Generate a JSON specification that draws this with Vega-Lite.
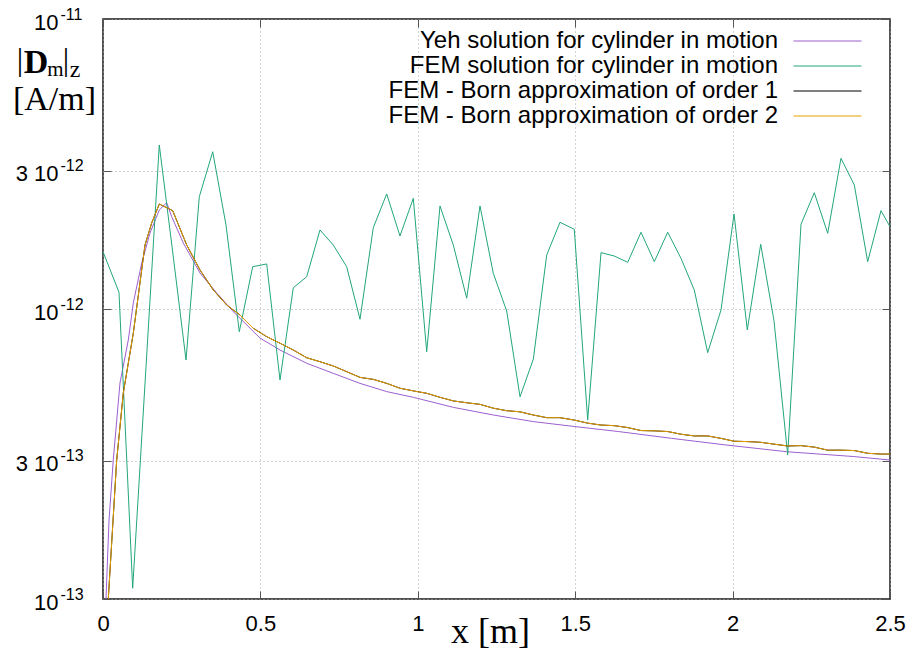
{
  "$schema": "https://vega.github.io/schema/vega-lite/v6.json",
  "width": 787,
  "height": 580,
  "autosize": {"type": "none"},
  "padding": {"left": 103, "top": 19, "right": 23, "bottom": 56},
  "background": "white",
  "config": {"view": {"stroke": "#1a1a1a", "strokeWidth": 1.5}},
  "data": {"name": "curves"},
  "datasets": {
    "curves": [
      {"series": "Yeh solution for cylinder in motion", "x": 0.0095, "y": 1.0e-13},
      {"series": "Yeh solution for cylinder in motion", "x": 0.0191, "y": 1.87e-13},
      {"series": "Yeh solution for cylinder in motion", "x": 0.0327, "y": 3.02e-13},
      {"series": "Yeh solution for cylinder in motion", "x": 0.054, "y": 5.56e-13},
      {"series": "Yeh solution for cylinder in motion", "x": 0.0804, "y": 7.82e-13},
      {"series": "Yeh solution for cylinder in motion", "x": 0.0963, "y": 1.049e-12},
      {"series": "Yeh solution for cylinder in motion", "x": 0.1229, "y": 1.441e-12},
      {"series": "Yeh solution for cylinder in motion", "x": 0.1493, "y": 1.829e-12},
      {"series": "Yeh solution for cylinder in motion", "x": 0.1788, "y": 2.194e-12},
      {"series": "Yeh solution for cylinder in motion", "x": 0.2024, "y": 2.326e-12},
      {"series": "Yeh solution for cylinder in motion", "x": 0.2182, "y": 2.081e-12},
      {"series": "Yeh solution for cylinder in motion", "x": 0.2551, "y": 1.689e-12},
      {"series": "Yeh solution for cylinder in motion", "x": 0.3081, "y": 1.331e-12},
      {"series": "Yeh solution for cylinder in motion", "x": 0.3612, "y": 1.136e-12},
      {"series": "Yeh solution for cylinder in motion", "x": 0.4139, "y": 9.79e-13},
      {"series": "Yeh solution for cylinder in motion", "x": 0.4987, "y": 7.94e-13},
      {"series": "Yeh solution for cylinder in motion", "x": 0.5623, "y": 7.22e-13},
      {"series": "Yeh solution for cylinder in motion", "x": 0.6471, "y": 6.50e-13},
      {"series": "Yeh solution for cylinder in motion", "x": 0.7316, "y": 6.00e-13},
      {"series": "Yeh solution for cylinder in motion", "x": 0.8164, "y": 5.54e-13},
      {"series": "Yeh solution for cylinder in motion", "x": 0.9012, "y": 5.19e-13},
      {"series": "Yeh solution for cylinder in motion", "x": 0.9857, "y": 4.96e-13},
      {"series": "Yeh solution for cylinder in motion", "x": 1.1128, "y": 4.58e-13},
      {"series": "Yeh solution for cylinder in motion", "x": 1.2398, "y": 4.31e-13},
      {"series": "Yeh solution for cylinder in motion", "x": 1.3669, "y": 4.09e-13},
      {"series": "Yeh solution for cylinder in motion", "x": 1.4835, "y": 3.95e-13},
      {"series": "Yeh solution for cylinder in motion", "x": 1.6369, "y": 3.78e-13},
      {"series": "Yeh solution for cylinder in motion", "x": 1.8065, "y": 3.58e-13},
      {"series": "Yeh solution for cylinder in motion", "x": 1.9759, "y": 3.40e-13},
      {"series": "Yeh solution for cylinder in motion", "x": 2.1719, "y": 3.22e-13},
      {"series": "Yeh solution for cylinder in motion", "x": 2.3834, "y": 3.10e-13},
      {"series": "Yeh solution for cylinder in motion", "x": 2.5, "y": 3.015e-13},

      {"series": "FEM solution for cylinder in motion", "x": 0.0, "y": 1.576e-12},
      {"series": "FEM solution for cylinder in motion", "x": 0.0508, "y": 1.142e-12},
      {"series": "FEM solution for cylinder in motion", "x": 0.0943, "y": 1.089e-13},
      {"series": "FEM solution for cylinder in motion", "x": 0.1366, "y": 6.31e-13},
      {"series": "FEM solution for cylinder in motion", "x": 0.1788, "y": 3.678e-12},
      {"series": "FEM solution for cylinder in motion", "x": 0.2214, "y": 1.573e-12},
      {"series": "FEM solution for cylinder in motion", "x": 0.2637, "y": 6.67e-13},
      {"series": "FEM solution for cylinder in motion", "x": 0.3059, "y": 2.439e-12},
      {"series": "FEM solution for cylinder in motion", "x": 0.3485, "y": 3.486e-12},
      {"series": "FEM solution for cylinder in motion", "x": 0.3907, "y": 1.949e-12},
      {"series": "FEM solution for cylinder in motion", "x": 0.4330, "y": 8.35e-13},
      {"series": "FEM solution for cylinder in motion", "x": 0.4755, "y": 1.399e-12},
      {"series": "FEM solution for cylinder in motion", "x": 0.5200, "y": 1.430e-12},
      {"series": "FEM solution for cylinder in motion", "x": 0.5623, "y": 5.69e-13},
      {"series": "FEM solution for cylinder in motion", "x": 0.6045, "y": 1.184e-12},
      {"series": "FEM solution for cylinder in motion", "x": 0.6471, "y": 1.292e-12},
      {"series": "FEM solution for cylinder in motion", "x": 0.6893, "y": 1.873e-12},
      {"series": "FEM solution for cylinder in motion", "x": 0.7316, "y": 1.662e-12},
      {"series": "FEM solution for cylinder in motion", "x": 0.7741, "y": 1.399e-12},
      {"series": "FEM solution for cylinder in motion", "x": 0.8164, "y": 9.22e-13},
      {"series": "FEM solution for cylinder in motion", "x": 0.8586, "y": 1.907e-12},
      {"series": "FEM solution for cylinder in motion", "x": 0.9012, "y": 2.493e-12},
      {"series": "FEM solution for cylinder in motion", "x": 0.9434, "y": 1.785e-12},
      {"series": "FEM solution for cylinder in motion", "x": 0.9857, "y": 2.408e-12},
      {"series": "FEM solution for cylinder in motion", "x": 1.0283, "y": 7.12e-13},
      {"series": "FEM solution for cylinder in motion", "x": 1.0705, "y": 2.266e-12},
      {"series": "FEM solution for cylinder in motion", "x": 1.1128, "y": 1.662e-12},
      {"series": "FEM solution for cylinder in motion", "x": 1.1553, "y": 1.089e-12},
      {"series": "FEM solution for cylinder in motion", "x": 1.1976, "y": 2.266e-12},
      {"series": "FEM solution for cylinder in motion", "x": 1.2398, "y": 1.328e-12},
      {"series": "FEM solution for cylinder in motion", "x": 1.2824, "y": 9.84e-13},
      {"series": "FEM solution for cylinder in motion", "x": 1.3247, "y": 4.98e-13},
      {"series": "FEM solution for cylinder in motion", "x": 1.3669, "y": 6.71e-13},
      {"series": "FEM solution for cylinder in motion", "x": 1.4095, "y": 1.535e-12},
      {"series": "FEM solution for cylinder in motion", "x": 1.4517, "y": 1.991e-12},
      {"series": "FEM solution for cylinder in motion", "x": 1.4971, "y": 1.883e-12},
      {"series": "FEM solution for cylinder in motion", "x": 1.5397, "y": 4.14e-13},
      {"series": "FEM solution for cylinder in motion", "x": 1.5820, "y": 1.564e-12},
      {"series": "FEM solution for cylinder in motion", "x": 1.6242, "y": 1.523e-12},
      {"series": "FEM solution for cylinder in motion", "x": 1.6668, "y": 1.449e-12},
      {"series": "FEM solution for cylinder in motion", "x": 1.7090, "y": 1.839e-12},
      {"series": "FEM solution for cylinder in motion", "x": 1.7513, "y": 1.456e-12},
      {"series": "FEM solution for cylinder in motion", "x": 1.7938, "y": 1.839e-12},
      {"series": "FEM solution for cylinder in motion", "x": 1.8361, "y": 1.495e-12},
      {"series": "FEM solution for cylinder in motion", "x": 1.8783, "y": 1.163e-12},
      {"series": "FEM solution for cylinder in motion", "x": 1.9209, "y": 7.07e-13},
      {"series": "FEM solution for cylinder in motion", "x": 1.9632, "y": 9.92e-13},
      {"series": "FEM solution for cylinder in motion", "x": 2.0045, "y": 2.126e-12},
      {"series": "FEM solution for cylinder in motion", "x": 2.0467, "y": 8.47e-13},
      {"series": "FEM solution for cylinder in motion", "x": 2.0893, "y": 1.672e-12},
      {"series": "FEM solution for cylinder in motion", "x": 2.1315, "y": 9.11e-13},
      {"series": "FEM solution for cylinder in motion", "x": 2.1750, "y": 3.14e-13},
      {"series": "FEM solution for cylinder in motion", "x": 2.2173, "y": 1.960e-12},
      {"series": "FEM solution for cylinder in motion", "x": 2.2595, "y": 2.518e-12},
      {"series": "FEM solution for cylinder in motion", "x": 2.3021, "y": 1.824e-12},
      {"series": "FEM solution for cylinder in motion", "x": 2.3443, "y": 3.309e-12},
      {"series": "FEM solution for cylinder in motion", "x": 2.3866, "y": 2.677e-12},
      {"series": "FEM solution for cylinder in motion", "x": 2.4291, "y": 1.456e-12},
      {"series": "FEM solution for cylinder in motion", "x": 2.4714, "y": 2.183e-12},
      {"series": "FEM solution for cylinder in motion", "x": 2.5, "y": 1.922e-12},

      {"series": "FEM - Born approximation of order 1", "x": 0.0168, "y": 1.0e-13},
      {"series": "FEM - Born approximation of order 1", "x": 0.0435, "y": 3.015e-13},
      {"series": "FEM - Born approximation of order 1", "x": 0.0645, "y": 5.13e-13},
      {"series": "FEM - Born approximation of order 1", "x": 0.0963, "y": 8.26e-13},
      {"series": "FEM - Born approximation of order 1", "x": 0.1334, "y": 1.662e-12},
      {"series": "FEM - Born approximation of order 1", "x": 0.1547, "y": 1.980e-12},
      {"series": "FEM - Born approximation of order 1", "x": 0.1788, "y": 2.302e-12},
      {"series": "FEM - Born approximation of order 1", "x": 0.2214, "y": 2.183e-12},
      {"series": "FEM - Born approximation of order 1", "x": 0.2659, "y": 1.662e-12},
      {"series": "FEM - Born approximation of order 1", "x": 0.3081, "y": 1.363e-12},
      {"series": "FEM - Born approximation of order 1", "x": 0.3504, "y": 1.163e-12},
      {"series": "FEM - Born approximation of order 1", "x": 0.3930, "y": 1.032e-12},
      {"series": "FEM - Born approximation of order 1", "x": 0.4352, "y": 9.53e-13},
      {"series": "FEM - Born approximation of order 1", "x": 0.4774, "y": 8.58e-13},
      {"series": "FEM - Born approximation of order 1", "x": 0.5200, "y": 8.03e-13},
      {"series": "FEM - Born approximation of order 1", "x": 0.5623, "y": 7.62e-13},
      {"series": "FEM - Born approximation of order 1", "x": 0.6045, "y": 7.22e-13},
      {"series": "FEM - Born approximation of order 1", "x": 0.6471, "y": 6.79e-13},
      {"series": "FEM - Born approximation of order 1", "x": 0.6893, "y": 6.58e-13},
      {"series": "FEM - Born approximation of order 1", "x": 0.7316, "y": 6.36e-13},
      {"series": "FEM - Born approximation of order 1", "x": 0.7741, "y": 6.08e-13},
      {"series": "FEM - Born approximation of order 1", "x": 0.8164, "y": 5.81e-13},
      {"series": "FEM - Born approximation of order 1", "x": 0.8586, "y": 5.72e-13},
      {"series": "FEM - Born approximation of order 1", "x": 0.9012, "y": 5.54e-13},
      {"series": "FEM - Born approximation of order 1", "x": 0.9434, "y": 5.33e-13},
      {"series": "FEM - Born approximation of order 1", "x": 0.9857, "y": 5.22e-13},
      {"series": "FEM - Born approximation of order 1", "x": 1.0283, "y": 5.12e-13},
      {"series": "FEM - Born approximation of order 1", "x": 1.0705, "y": 4.96e-13},
      {"series": "FEM - Born approximation of order 1", "x": 1.1128, "y": 4.82e-13},
      {"series": "FEM - Born approximation of order 1", "x": 1.1553, "y": 4.75e-13},
      {"series": "FEM - Born approximation of order 1", "x": 1.1976, "y": 4.69e-13},
      {"series": "FEM - Born approximation of order 1", "x": 1.2398, "y": 4.55e-13},
      {"series": "FEM - Born approximation of order 1", "x": 1.2824, "y": 4.46e-13},
      {"series": "FEM - Born approximation of order 1", "x": 1.3247, "y": 4.42e-13},
      {"series": "FEM - Born approximation of order 1", "x": 1.3669, "y": 4.31e-13},
      {"series": "FEM - Born approximation of order 1", "x": 1.4095, "y": 4.22e-13},
      {"series": "FEM - Born approximation of order 1", "x": 1.4517, "y": 4.22e-13},
      {"series": "FEM - Born approximation of order 1", "x": 1.4971, "y": 4.14e-13},
      {"series": "FEM - Born approximation of order 1", "x": 1.5397, "y": 4.04e-13},
      {"series": "FEM - Born approximation of order 1", "x": 1.5820, "y": 3.98e-13},
      {"series": "FEM - Born approximation of order 1", "x": 1.6242, "y": 3.96e-13},
      {"series": "FEM - Born approximation of order 1", "x": 1.6668, "y": 3.90e-13},
      {"series": "FEM - Born approximation of order 1", "x": 1.7090, "y": 3.81e-13},
      {"series": "FEM - Born approximation of order 1", "x": 1.7513, "y": 3.80e-13},
      {"series": "FEM - Born approximation of order 1", "x": 1.7938, "y": 3.78e-13},
      {"series": "FEM - Born approximation of order 1", "x": 1.8361, "y": 3.70e-13},
      {"series": "FEM - Born approximation of order 1", "x": 1.8783, "y": 3.65e-13},
      {"series": "FEM - Born approximation of order 1", "x": 1.9209, "y": 3.65e-13},
      {"series": "FEM - Born approximation of order 1", "x": 1.9632, "y": 3.58e-13},
      {"series": "FEM - Born approximation of order 1", "x": 2.0045, "y": 3.50e-13},
      {"series": "FEM - Born approximation of order 1", "x": 2.0467, "y": 3.49e-13},
      {"series": "FEM - Born approximation of order 1", "x": 2.0893, "y": 3.47e-13},
      {"series": "FEM - Born approximation of order 1", "x": 2.1315, "y": 3.42e-13},
      {"series": "FEM - Born approximation of order 1", "x": 2.1750, "y": 3.37e-13},
      {"series": "FEM - Born approximation of order 1", "x": 2.2173, "y": 3.38e-13},
      {"series": "FEM - Born approximation of order 1", "x": 2.2595, "y": 3.34e-13},
      {"series": "FEM - Born approximation of order 1", "x": 2.3021, "y": 3.26e-13},
      {"series": "FEM - Born approximation of order 1", "x": 2.3443, "y": 3.26e-13},
      {"series": "FEM - Born approximation of order 1", "x": 2.3866, "y": 3.25e-13},
      {"series": "FEM - Born approximation of order 1", "x": 2.4291, "y": 3.18e-13},
      {"series": "FEM - Born approximation of order 1", "x": 2.4714, "y": 3.16e-13},
      {"series": "FEM - Born approximation of order 1", "x": 2.5, "y": 3.16e-13},

      {"series": "FEM - Born approximation of order 2", "x": 0.0168, "y": 1.0e-13},
      {"series": "FEM - Born approximation of order 2", "x": 0.0435, "y": 3.015e-13},
      {"series": "FEM - Born approximation of order 2", "x": 0.0645, "y": 5.13e-13},
      {"series": "FEM - Born approximation of order 2", "x": 0.0963, "y": 8.26e-13},
      {"series": "FEM - Born approximation of order 2", "x": 0.1334, "y": 1.662e-12},
      {"series": "FEM - Born approximation of order 2", "x": 0.1547, "y": 1.980e-12},
      {"series": "FEM - Born approximation of order 2", "x": 0.1788, "y": 2.302e-12},
      {"series": "FEM - Born approximation of order 2", "x": 0.2214, "y": 2.183e-12},
      {"series": "FEM - Born approximation of order 2", "x": 0.2659, "y": 1.662e-12},
      {"series": "FEM - Born approximation of order 2", "x": 0.3081, "y": 1.363e-12},
      {"series": "FEM - Born approximation of order 2", "x": 0.3504, "y": 1.163e-12},
      {"series": "FEM - Born approximation of order 2", "x": 0.3930, "y": 1.032e-12},
      {"series": "FEM - Born approximation of order 2", "x": 0.4352, "y": 9.53e-13},
      {"series": "FEM - Born approximation of order 2", "x": 0.4774, "y": 8.58e-13},
      {"series": "FEM - Born approximation of order 2", "x": 0.5200, "y": 8.03e-13},
      {"series": "FEM - Born approximation of order 2", "x": 0.5623, "y": 7.62e-13},
      {"series": "FEM - Born approximation of order 2", "x": 0.6045, "y": 7.22e-13},
      {"series": "FEM - Born approximation of order 2", "x": 0.6471, "y": 6.79e-13},
      {"series": "FEM - Born approximation of order 2", "x": 0.6893, "y": 6.58e-13},
      {"series": "FEM - Born approximation of order 2", "x": 0.7316, "y": 6.36e-13},
      {"series": "FEM - Born approximation of order 2", "x": 0.7741, "y": 6.08e-13},
      {"series": "FEM - Born approximation of order 2", "x": 0.8164, "y": 5.81e-13},
      {"series": "FEM - Born approximation of order 2", "x": 0.8586, "y": 5.72e-13},
      {"series": "FEM - Born approximation of order 2", "x": 0.9012, "y": 5.54e-13},
      {"series": "FEM - Born approximation of order 2", "x": 0.9434, "y": 5.33e-13},
      {"series": "FEM - Born approximation of order 2", "x": 0.9857, "y": 5.22e-13},
      {"series": "FEM - Born approximation of order 2", "x": 1.0283, "y": 5.12e-13},
      {"series": "FEM - Born approximation of order 2", "x": 1.0705, "y": 4.96e-13},
      {"series": "FEM - Born approximation of order 2", "x": 1.1128, "y": 4.82e-13},
      {"series": "FEM - Born approximation of order 2", "x": 1.1553, "y": 4.75e-13},
      {"series": "FEM - Born approximation of order 2", "x": 1.1976, "y": 4.69e-13},
      {"series": "FEM - Born approximation of order 2", "x": 1.2398, "y": 4.55e-13},
      {"series": "FEM - Born approximation of order 2", "x": 1.2824, "y": 4.46e-13},
      {"series": "FEM - Born approximation of order 2", "x": 1.3247, "y": 4.42e-13},
      {"series": "FEM - Born approximation of order 2", "x": 1.3669, "y": 4.31e-13},
      {"series": "FEM - Born approximation of order 2", "x": 1.4095, "y": 4.22e-13},
      {"series": "FEM - Born approximation of order 2", "x": 1.4517, "y": 4.22e-13},
      {"series": "FEM - Born approximation of order 2", "x": 1.4971, "y": 4.14e-13},
      {"series": "FEM - Born approximation of order 2", "x": 1.5397, "y": 4.04e-13},
      {"series": "FEM - Born approximation of order 2", "x": 1.5820, "y": 3.98e-13},
      {"series": "FEM - Born approximation of order 2", "x": 1.6242, "y": 3.96e-13},
      {"series": "FEM - Born approximation of order 2", "x": 1.6668, "y": 3.90e-13},
      {"series": "FEM - Born approximation of order 2", "x": 1.7090, "y": 3.81e-13},
      {"series": "FEM - Born approximation of order 2", "x": 1.7513, "y": 3.80e-13},
      {"series": "FEM - Born approximation of order 2", "x": 1.7938, "y": 3.78e-13},
      {"series": "FEM - Born approximation of order 2", "x": 1.8361, "y": 3.70e-13},
      {"series": "FEM - Born approximation of order 2", "x": 1.8783, "y": 3.65e-13},
      {"series": "FEM - Born approximation of order 2", "x": 1.9209, "y": 3.65e-13},
      {"series": "FEM - Born approximation of order 2", "x": 1.9632, "y": 3.58e-13},
      {"series": "FEM - Born approximation of order 2", "x": 2.0045, "y": 3.50e-13},
      {"series": "FEM - Born approximation of order 2", "x": 2.0467, "y": 3.49e-13},
      {"series": "FEM - Born approximation of order 2", "x": 2.0893, "y": 3.47e-13},
      {"series": "FEM - Born approximation of order 2", "x": 2.1315, "y": 3.42e-13},
      {"series": "FEM - Born approximation of order 2", "x": 2.1750, "y": 3.37e-13},
      {"series": "FEM - Born approximation of order 2", "x": 2.2173, "y": 3.38e-13},
      {"series": "FEM - Born approximation of order 2", "x": 2.2595, "y": 3.34e-13},
      {"series": "FEM - Born approximation of order 2", "x": 2.3021, "y": 3.26e-13},
      {"series": "FEM - Born approximation of order 2", "x": 2.3443, "y": 3.26e-13},
      {"series": "FEM - Born approximation of order 2", "x": 2.3866, "y": 3.25e-13},
      {"series": "FEM - Born approximation of order 2", "x": 2.4291, "y": 3.18e-13},
      {"series": "FEM - Born approximation of order 2", "x": 2.4714, "y": 3.16e-13},
      {"series": "FEM - Born approximation of order 2", "x": 2.5, "y": 3.16e-13}
    ]
  },
  "resolve": {"axis": {"x": "independent", "y": "independent"}},
  "layer": [
    {
      "mark": {"type": "line", "clip": true},
      "encoding": {
        "x": {
          "field": "x", "type": "quantitative",
          "scale": {"domain": [0, 2.5], "nice": false, "zero": false},
          "axis": {
            "orient": "bottom", "values": [0, 0.5, 1, 1.5, 2, 2.5],
            "labelExpr": "toString(datum.value)",
            "labelFlush": false, "labelOverlap": false, "labelBound": false,
            "labelFont": "Liberation Sans", "labelFontSize": 22, "labelColor": "#000",
            "labelBaseline": "middle", "labelPadding": 32,
            "tickSize": -8, "tickColor": "#555", "tickWidth": 1,
            "domain": false,
            "grid": true, "gridDash": [1, 3], "gridColor": "#a8a8a8", "gridWidth": 1,
            "title": "x [m]", "titleFont": "Liberation Serif", "titleFontSize": 36,
            "titleFontWeight": "normal", "titleColor": "#000",
            "titleX": 387, "titleY": 43, "titleAlign": "center", "titleBaseline": "alphabetic"
          }
        },
        "y": {
          "field": "y", "type": "quantitative",
          "scale": {"type": "log", "domain": [1e-13, 1e-11], "nice": false},
          "axis": {
            "orient": "left", "values": [1e-13, 3e-13, 1e-12, 3e-12, 1e-11],
            "labelExpr": "datum.value < 2e-13 ? '10' : datum.value < 5e-13 ? '3 10' : datum.value < 2e-12 ? '10' : datum.value < 5e-12 ? '3 10' : '10'",
            "labelOverlap": false, "labelBound": false, "labelFlush": false,
            "labelFont": "Liberation Sans", "labelFontSize": 22, "labelColor": "#000",
            "labelAlign": "right", "labelBaseline": "middle", "labelOffset": 3, "labelPadding": 53,
            "tickSize": -8, "tickColor": "#555", "tickWidth": 1,
            "domain": false,
            "grid": true, "gridDash": [1, 3], "gridColor": "#a8a8a8", "gridWidth": 1,
            "title": "D", "titleFont": "Liberation Serif", "titleFontSize": 34,
            "titleFontWeight": "bold", "titleColor": "#000", "titleAngle": 0,
            "titleX": -67.5, "titleY": 53, "titleAlign": "center", "titleBaseline": "alphabetic"
          }
        },
        "color": {
          "field": "series", "type": "nominal",
          "scale": {
            "domain": ["Yeh solution for cylinder in motion", "FEM solution for cylinder in motion", "FEM - Born approximation of order 1", "FEM - Born approximation of order 2"],
            "range": ["#9c5fd0", "#22a67c", "#000000", "#e69f00"]
          },
          "legend": {
            "orient": "none", "legendX": 712.5, "legendY": 10, "title": null,
            "symbolType": "M-4,0H4", "symbolSize": 289, "symbolStrokeWidth": 1,
            "labelFont": "Liberation Sans", "labelFontSize": 24, "labelColor": "#000",
            "labelAlign": "right", "labelBaseline": "middle", "labelOffset": -61.5, "labelLimit": 0,
            "rowPadding": 1, "padding": 0
          }
        },
        "strokeWidth": {
          "field": "series", "type": "nominal",
          "scale": {
            "domain": ["Yeh solution for cylinder in motion", "FEM solution for cylinder in motion", "FEM - Born approximation of order 1", "FEM - Born approximation of order 2"],
            "range": [1, 1, 1.7, 1]
          },
          "legend": null
        }
      }
    },
    {
      "mark": {"type": "line", "opacity": 0},
      "encoding": {
        "x": {
          "field": "x", "type": "quantitative",
          "scale": {"domain": [0, 2.5], "nice": false, "zero": false},
          "axis": {
            "orient": "top", "values": [0, 0.5, 1, 1.5, 2, 2.5],
            "labels": false, "tickSize": -8, "tickColor": "#555", "tickWidth": 1,
            "domain": false, "grid": false,
            "title": "m", "titleFont": "Liberation Serif", "titleFontSize": 21,
            "titleFontWeight": "normal", "titleColor": "#000",
            "titleX": -48, "titleY": 56, "titleAlign": "center", "titleBaseline": "alphabetic"
          }
        },
        "y": {
          "field": "y", "type": "quantitative",
          "scale": {"type": "log", "domain": [1e-13, 1e-11], "nice": false},
          "axis": {
            "orient": "left", "values": [1e-13, 3e-13, 1e-12, 3e-12, 1e-11],
            "labelExpr": "datum.value < 5e-13 ? '-13' : datum.value < 5e-12 ? '-12' : '-11'",
            "labelOverlap": false, "labelBound": false, "labelFlush": false,
            "labelFont": "Liberation Sans", "labelFontSize": 16, "labelColor": "#000",
            "labelAlign": "left", "labelBaseline": "middle", "labelOffset": -5, "labelPadding": 43,
            "ticks": false, "domain": false, "grid": false,
            "title": "[A/m]", "titleFont": "Liberation Serif", "titleFontSize": 34,
            "titleFontWeight": "normal", "titleColor": "#000", "titleAngle": 0,
            "titleX": -49, "titleY": 90, "titleAlign": "center", "titleBaseline": "alphabetic"
          }
        },
        "detail": {"field": "series", "type": "nominal"}
      }
    },
    {
      "mark": {"type": "line", "opacity": 0},
      "encoding": {
        "x": {
          "field": "x", "type": "quantitative",
          "scale": {"domain": [0, 2.5], "nice": false, "zero": false},
          "axis": {
            "orient": "top", "labels": false, "ticks": false, "domain": false, "grid": false,
            "title": "z", "titleFont": "Liberation Serif", "titleFontSize": 24,
            "titleFontWeight": "normal", "titleColor": "#000",
            "titleX": -28.5, "titleY": 57, "titleAlign": "center", "titleBaseline": "alphabetic"
          }
        },
        "y": {
          "field": "y", "type": "quantitative",
          "scale": {"type": "log", "domain": [1e-13, 1e-11], "nice": false},
          "axis": {
            "orient": "right", "values": [1e-13, 3e-13, 1e-12, 3e-12, 1e-11],
            "labels": false, "tickSize": -8, "tickColor": "#555", "tickWidth": 1,
            "domain": false, "grid": false,
            "title": "|", "titleFont": "Liberation Serif", "titleFontSize": 32,
            "titleFontWeight": "normal", "titleColor": "#000", "titleAngle": 0,
            "titleX": -870.5, "titleY": 50, "titleAlign": "center", "titleBaseline": "alphabetic"
          }
        },
        "detail": {"field": "series", "type": "nominal"}
      }
    },
    {
      "mark": {"type": "line", "opacity": 0},
      "encoding": {
        "x": {
          "field": "x", "type": "quantitative",
          "scale": {"domain": [0, 2.5], "nice": false, "zero": false},
          "axis": null
        },
        "y": {
          "field": "y", "type": "quantitative",
          "scale": {"type": "log", "domain": [1e-13, 1e-11], "nice": false},
          "axis": {
            "orient": "right", "labels": false, "ticks": false, "domain": false, "grid": false,
            "title": "|", "titleFont": "Liberation Serif", "titleFontSize": 32,
            "titleFontWeight": "normal", "titleColor": "#000", "titleAngle": 0,
            "titleX": -824.5, "titleY": 50, "titleAlign": "center", "titleBaseline": "alphabetic"
          }
        },
        "detail": {"field": "series", "type": "nominal"}
      }
    }
  ]
}
